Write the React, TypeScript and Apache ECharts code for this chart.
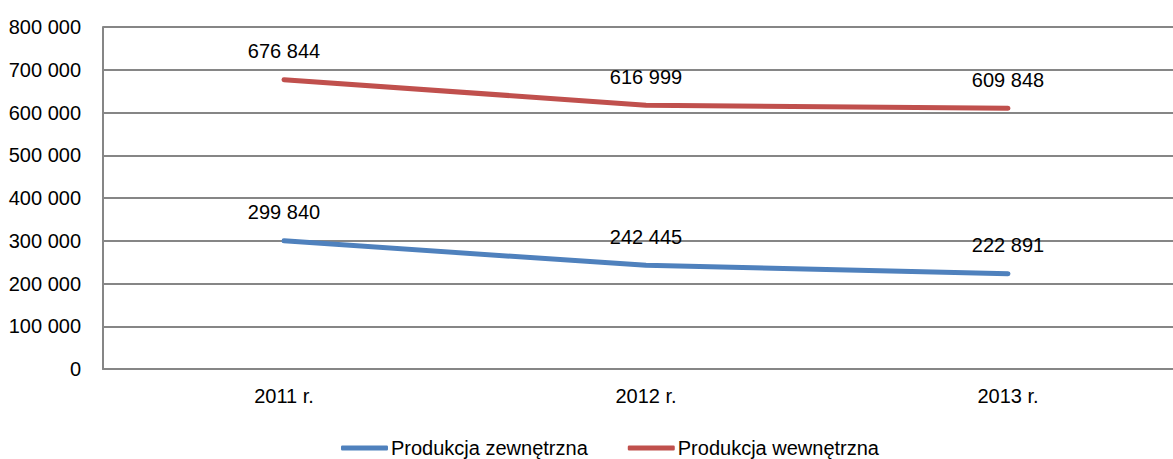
import React, { useEffect, useRef } from "react";
import * as echarts from "echarts";

const categories = ["2011 r.", "2012 r.", "2013 r."];
const zewnetrzna = [299840, 242445, 222891];
const wewnetrzna = [676844, 616999, 609848];
const seriesNames = ["Produkcja zewnętrzna", "Produkcja wewnętrzna"];

const FONT = "'Liberation Sans', Arial, sans-serif";
const fmt = (v: number) => String(v).replace(/\B(?=(\d{3})+(?!\d))/g, " ");

export default function App() {
  const ref = useRef<HTMLDivElement>(null);
  useEffect(() => {
    if (!ref.current) return;
    const chart = echarts.init(ref.current, null, { renderer: "svg" });
    const label = {
      show: true,
      position: "top",
      distance: 18,
      color: "#000",
      fontSize: 20,
      fontFamily: FONT,
      formatter: (p: any) => fmt(p.value),
    };
    chart.setOption({
      animation: false,
      textStyle: { fontFamily: FONT },
      grid: { left: 103, top: 27, width: 1086, height: 342, outerBoundsMode: "none", containLabel: false },
      legend: {
        left: 336,
        top: 433,
        itemWidth: 47,
        itemHeight: 5,
        itemGap: 40,
        textStyle: { fontSize: 20, color: "#000", fontFamily: FONT, padding: [0, 0, 0, -2] },
        data: [
          { name: seriesNames[0], icon: "roundRect" },
          { name: seriesNames[1], icon: "roundRect" },
        ],
      },
      xAxis: {
        type: "category",
        data: categories,
        boundaryGap: true,
        axisLine: { lineStyle: { color: "#868686", width: 2 } },
        axisTick: { show: false },
        axisLabel: { color: "#000", fontSize: 20, fontFamily: FONT, margin: 17 },
      },
      yAxis: {
        type: "value",
        min: 0,
        max: 800000,
        interval: 100000,
        axisLine: { show: true, lineStyle: { color: "#868686", width: 2 } },
        axisTick: { show: false },
        splitLine: { lineStyle: { color: "#868686", width: 2 } },
        axisLabel: { color: "#000", fontSize: 20, fontFamily: FONT, margin: 22, formatter: (v: number) => fmt(v) },
      },
      series: [
        {
          name: seriesNames[0],
          type: "line",
          data: zewnetrzna,
          symbol: "circle",
          symbolSize: 1,
          showSymbol: true,
          lineStyle: { color: "#4F81BD", width: 5, cap: "round" },
          itemStyle: { color: "#4F81BD" },
          label,
        },
        {
          name: seriesNames[1],
          type: "line",
          data: wewnetrzna,
          symbol: "circle",
          symbolSize: 1,
          showSymbol: true,
          lineStyle: { color: "#C0504D", width: 5, cap: "round" },
          itemStyle: { color: "#C0504D" },
          label,
        },
      ],
    });
    return () => chart.dispose();
  }, []);
  return (
    <div
      ref={ref}
      style={{ position: "fixed", left: 0, top: 0, width: 1173, height: 459, background: "#fff" }}
    />
  );
}
